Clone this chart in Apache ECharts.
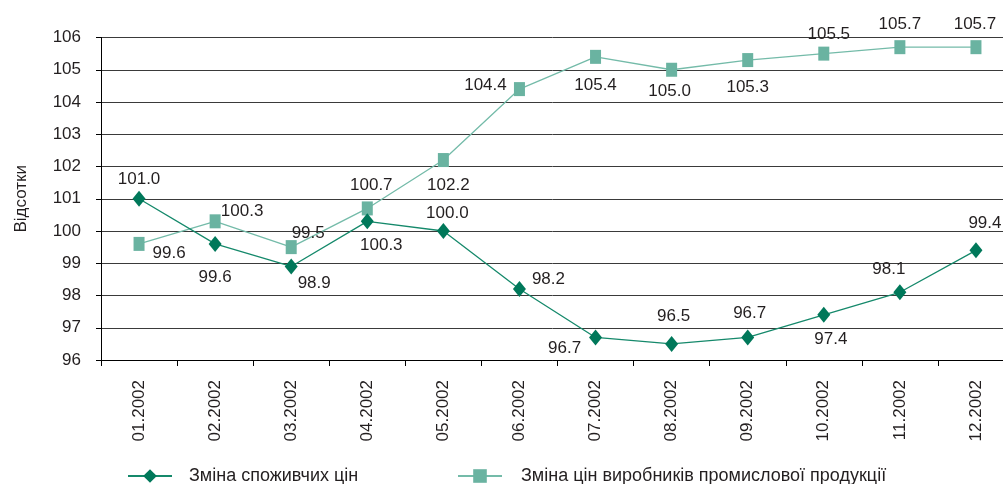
<!DOCTYPE html>
<html>
<head>
<meta charset="utf-8">
<script src="https://cdn.jsdelivr.net/npm/echarts@6/dist/echarts.min.js"></script>
<style>
  html, body { margin: 0; padding: 0; background: #fff; }
  #chart { width: 1003px; height: 484px; }
</style>
</head>
<body>
<div id="chart"></div>
<script>
const months = ['01.2002', '02.2002', '03.2002', '04.2002', '05.2002', '06.2002',
  '07.2002', '08.2002', '09.2002', '10.2002', '11.2002', '12.2002']
const cpi = [101.0, 99.6, 98.9, 100.3, 100.0, 98.2, 96.7, 96.5, 96.7, 97.4, 98.1, 99.4]
const ppi = [99.6, 100.3, 99.5, 100.7, 102.2, 104.4, 105.4, 105.0, 105.3, 105.5, 105.7, 105.7]
const seriesNames = ['Зміна споживчих цін', 'Зміна цін виробників промислової продукції']

// зсув підписів відносно точки
const cpiLabelShift = [[0, -19], [0, 33], [23, 17], [14, 24], [4, -18], [29, -10],
  [-31, 11], [2, -28], [2, -24], [7, 24], [-11, -23], [9, -27]]
const ppiLabelShift = [[30, 9], [27, -10], [17, -14], [4, -23], [5, 25], [-34, -4],
  [0, 28], [-2, 22], [0, 27], [5, -19], [0, -23], [-1, -23]]

const font = "'Liberation Sans', Arial, sans-serif"
const textColor = '#231f20'

function withLabels(values, shifts) {
  return values.map((v, i) => ({
    value: v,
    label: { position: 'inside', offset: shifts[i] }
  }))
}

const labelStyle = {
  show: true,
  color: textColor,
  fontSize: 17,
  fontFamily: font,
  formatter: p => p.value.toFixed(1)
}

const chart = echarts.init(document.getElementById('chart'))
chart.setOption({
  animation: false,
  textStyle: { fontFamily: font },
  grid: { left: 101, right: -11, top: 37.5, bottom: 124, containLabel: false, outerBoundsMode: 'none' },
  xAxis: {
    type: 'category',
    data: months,
    boundaryGap: true,
    axisLine: { lineStyle: { color: '#000', width: 1 } },
    axisTick: { show: true, length: 6, lineStyle: { color: '#000' } },
    axisLabel: { rotate: 90, margin: 20, color: textColor, fontSize: 17, fontFamily: font },
    splitLine: { show: false }
  },
  yAxis: {
    type: 'value',
    min: 96,
    max: 106,
    interval: 1,
    name: 'Відсотки',
    nameLocation: 'middle',
    nameGap: 71,
    nameTextStyle: { color: textColor, fontSize: 17, fontFamily: font },
    axisLine: { show: true, lineStyle: { color: '#000', width: 1 } },
    axisTick: { show: true, length: 5, lineStyle: { color: '#000' } },
    axisLabel: { margin: 20, color: textColor, fontSize: 17, fontFamily: font },
    splitLine: { show: true, lineStyle: { color: '#3a3a3a', width: 1 } }
  },
  legend: [
    {
      data: [seriesNames[0]],
      left: 122,
      top: 462,
      itemWidth: 44,
      itemHeight: 17,
      textStyle: { color: textColor, fontSize: 18, fontFamily: font, padding: [0, 0, 0, 12] }
    },
    {
      data: [seriesNames[1]],
      left: 452,
      top: 462,
      itemWidth: 44,
      itemHeight: 17,
      textStyle: { color: textColor, fontSize: 18, fontFamily: font, padding: [0, 0, 0, 14] }
    }
  ],
  series: [
    {
      name: seriesNames[1],
      type: 'line',
      data: withLabels(ppi, ppiLabelShift),
      symbol: 'rect',
      symbolSize: [11, 14],
      itemStyle: { color: '#6ab3a1' },
      lineStyle: { color: '#74bba9', width: 1.3 },
      label: labelStyle,
      z: 2
    },
    {
      name: seriesNames[0],
      type: 'line',
      data: withLabels(cpi, cpiLabelShift),
      symbol: 'diamond',
      symbolSize: [13, 16],
      itemStyle: { color: '#00785a' },
      lineStyle: { color: '#15896b', width: 1.3 },
      label: labelStyle,
      z: 3
    }
  ]
})
</script>
</body>
</html>
